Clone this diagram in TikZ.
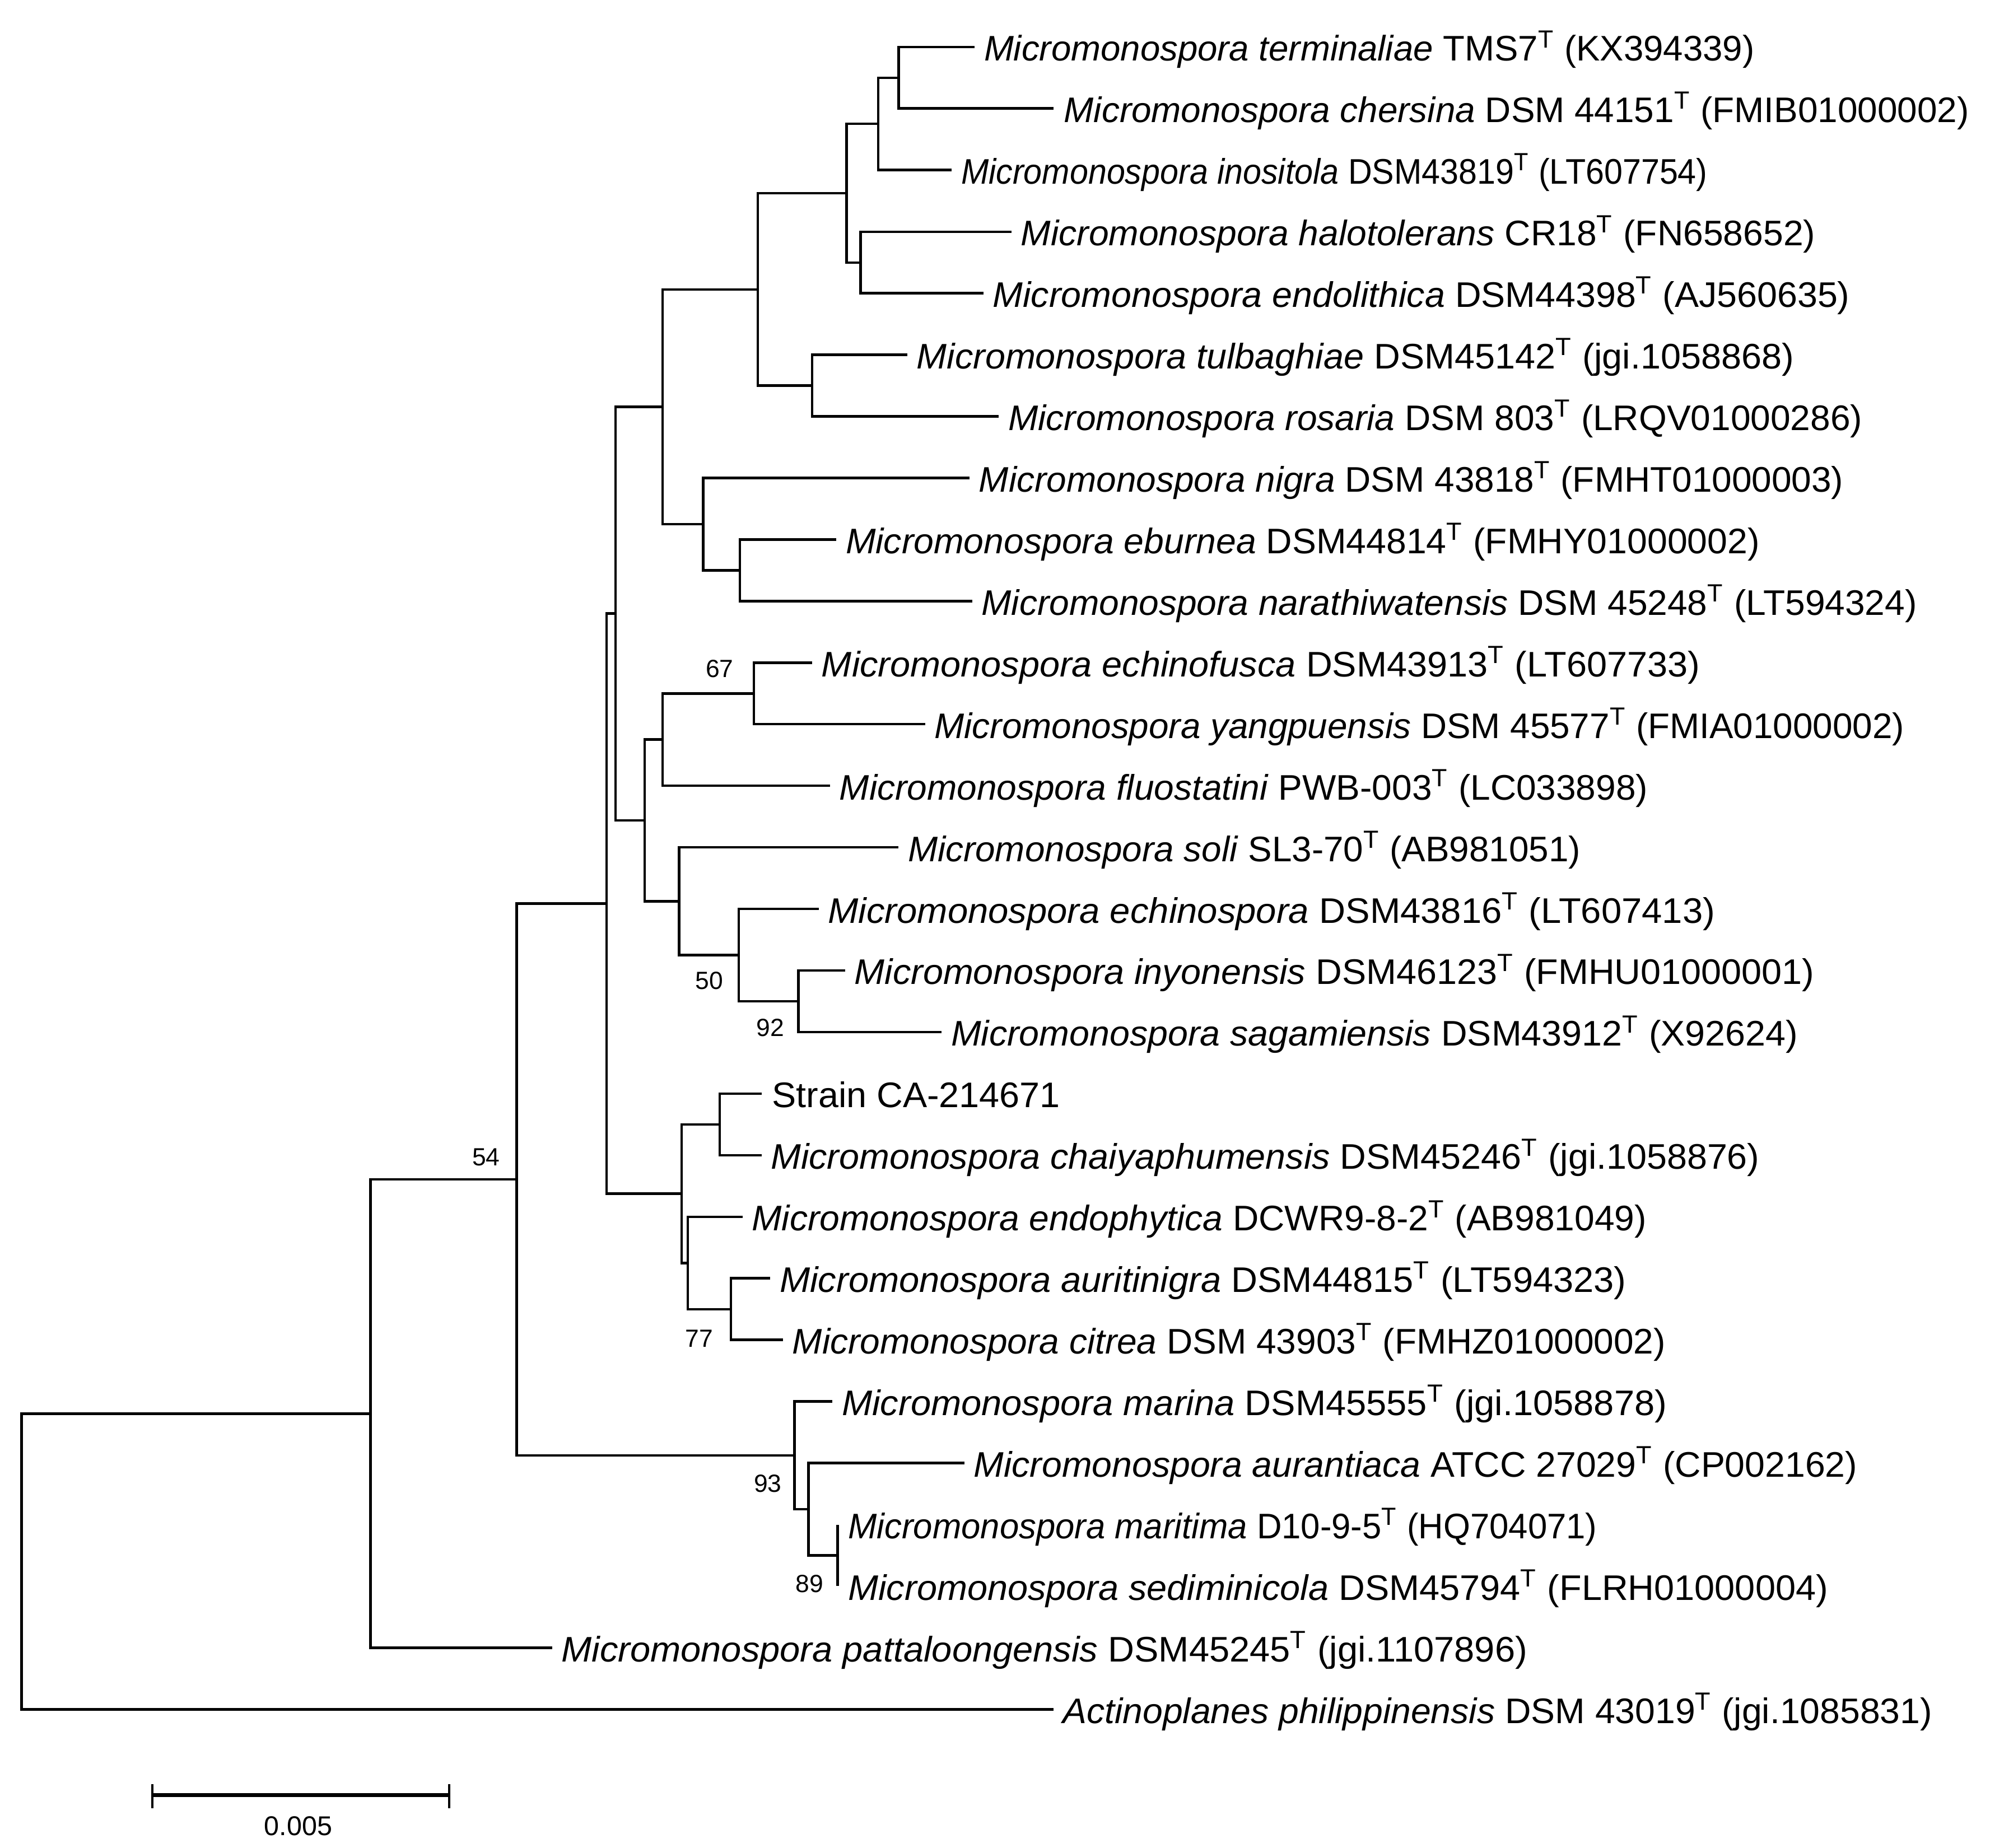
\documentclass[tikz,border=0pt]{standalone}
\usepackage{fontspec}
\setmainfont{Liberation Sans}
\usepackage{graphicx}
\newlength\unitl \setlength\unitl{0.5pt}
\newcommand\lab[2]{\resizebox{#1\unitl}{\height}{#2}}
\newcommand\mic[1]{\textit{Micromonospora #1}}
\newcommand\tsup{\textsuperscript{T}}
\begin{document}
\begin{tikzpicture}[x=0.5pt,y=-0.5pt,
  br/.style={line width=1pt},
  leaf/.style={anchor=base west, inner sep=0pt, font=\fontsize{14}{16}\selectfont},
  boot/.style={inner sep=0pt, font=\fontsize{9.8}{11}\selectfont}]
\useasboundingbox (0,0) rectangle (1568,1456);
% leaf tips
\coordinate (t1) at (768,37);
\coordinate (t2) at (830,85.5);
\coordinate (t3) at (750,134);
\coordinate (t4) at (797,182.6);
\coordinate (t5) at (775,231.1);
\coordinate (t6) at (715,279.6);
\coordinate (t7) at (787,328.1);
\coordinate (t8) at (764,376.6);
\coordinate (t9) at (659,425.2);
\coordinate (t10) at (766,473.7);
\coordinate (t11) at (640,522.2);
\coordinate (t12) at (729,570.7);
\coordinate (t13) at (654,619.2);
\coordinate (t14) at (708,667.8);
\coordinate (t15) at (645,716.3);
\coordinate (t16) at (666,764.8);
\coordinate (t17) at (742,813.3);
\coordinate (t18) at (600,861.8);
\coordinate (t19) at (600,910.4);
\coordinate (t20) at (585,958.9);
\coordinate (t21) at (607,1007.4);
\coordinate (t22) at (617,1055.9);
\coordinate (t23) at (656,1104.4);
\coordinate (t24) at (760,1153);
\coordinate (t25) at (660,1201.5);
\coordinate (t26) at (660,1250);
\coordinate (t27) at (435,1298.5);
\coordinate (t28) at (830,1347);
% internal nodes
\coordinate (A) at (708,61.25);
\coordinate (B) at (692,97.6);
\coordinate (C) at (678,206.9);
\coordinate (D) at (667,152.2);
\coordinate (E) at (640,303.9);
\coordinate (F) at (597,228.1);
\coordinate (G) at (583,449.5);
\coordinate (H) at (554,413.0);
\coordinate (I) at (522,320.6);
\coordinate (J) at (594,546.5);
\coordinate (K) at (522,582.8);
\coordinate (L) at (629,789.1);
\coordinate (M) at (582,752.7);
\coordinate (N) at (535,710.2);
\coordinate (O) at (508,646.5);
\coordinate (P) at (485,483.5);
\coordinate (Q) at (567,886.1);
\coordinate (R) at (576,1031.7);
\coordinate (S) at (542,995.3);
\coordinate (T) at (537,940.7);
\coordinate (U) at (478,712.1);
\coordinate (V) at (660,1225.7);
\coordinate (W) at (637,1189.4);
\coordinate (X) at (626,1146.9);
\coordinate (Y) at (407,929.5);
\coordinate (Z) at (292,1114);
\coordinate (root) at (17,1230.5);
% branches
\foreach \p/\c in {A/t1,A/t2,B/A,B/t3,C/t4,C/t5,D/B,D/C,E/t6,E/t7,F/D,F/E,
  G/t9,G/t10,H/t8,H/G,I/F,I/H,J/t11,J/t12,K/J,K/t13,L/t16,L/t17,M/t15,M/L,
  N/t14,N/M,O/K,O/N,P/I,P/O,Q/t18,Q/t19,R/t21,R/t22,S/t20,S/R,T/Q,T/S,
  U/P,U/T,V/t25,V/t26,W/t24,W/V,X/t23,X/W,Y/U,Y/X,Z/Y,Z/t27,root/Z,root/t28}
  \draw[br] (\p) |- (\c);
% leaf labels
\node[leaf] (n1) at (775,48) {\lab{607}{\mic{terminaliae} TMS7\tsup{} (KX394339)}};
\node[leaf] (n2) at (838,96.5) {\lab{713}{\mic{chersina} DSM 44151\tsup{} (FMIB01000002)}};
\node[leaf] (n3) at (757,145) {\lab{588}{\mic{inositola} DSM43819\tsup{} (LT607754)}};
\node[leaf] (n4) at (804,193.6) {\lab{626}{\mic{halotolerans} CR18\tsup{} (FN658652)}};
\node[leaf] (n5) at (782,242.1) {\lab{675}{\mic{endolithica} DSM44398\tsup{} (AJ560635)}};
\node[leaf] (n6) at (722,290.6) {\lab{691}{\mic{tulbaghiae} DSM45142\tsup{} (jgi.1058868)}};
\node[leaf] (n7) at (794,339.1) {\lab{673}{\mic{rosaria} DSM 803\tsup{} (LRQV01000286)}};
\node[leaf] (n8) at (771,387.6) {\lab{681}{\mic{nigra} DSM 43818\tsup{} (FMHT01000003)}};
\node[leaf] (n9) at (666,436.2) {\lab{720}{\mic{eburnea} DSM44814\tsup{} (FMHY01000002)}};
\node[leaf] (n10) at (773,484.7) {\lab{737}{\mic{narathiwatensis} DSM 45248\tsup{} (LT594324)}};
\node[leaf] (n11) at (647,533.2) {\lab{692}{\mic{echinofusca} DSM43913\tsup{} (LT607733)}};
\node[leaf] (n12) at (736,581.7) {\lab{764}{\mic{yangpuensis} DSM 45577\tsup{} (FMIA01000002)}};
\node[leaf] (n13) at (661,630.2) {\lab{637}{\mic{fluostatini} PWB-003\tsup{} (LC033898)}};
\node[leaf] (n14) at (715,678.8) {\lab{530}{\mic{soli} SL3-70\tsup{} (AB981051)}};
\node[leaf] (n15) at (652,727.3) {\lab{699}{\mic{echinospora} DSM43816\tsup{} (LT607413)}};
\node[leaf] (n16) at (673,775.8) {\lab{756}{\mic{inyonensis} DSM46123\tsup{} (FMHU01000001)}};
\node[leaf] (n17) at (749,824.3) {\lab{667}{\mic{sagamiensis} DSM43912\tsup{} (X92624)}};
\node[leaf] (n18) at (608,872.8) {\lab{227}{Strain CA-214671}};
\node[leaf] (n19) at (607,921.4) {\lab{779}{\mic{chaiyaphumensis} DSM45246\tsup{} (jgi.1058876)}};
\node[leaf] (n20) at (592,969.9) {\lab{705}{\mic{endophytica} DCWR9-8-2\tsup{} (AB981049)}};
\node[leaf] (n21) at (614,1018.4) {\lab{667}{\mic{auritinigra} DSM44815\tsup{} (LT594323)}};
\node[leaf] (n22) at (624,1066.9) {\lab{688}{\mic{citrea} DSM 43903\tsup{} (FMHZ01000002)}};
\node[leaf] (n23) at (663,1115.4) {\lab{650}{\mic{marina} DSM45555\tsup{} (jgi.1058878)}};
\node[leaf] (n24) at (767,1164) {\lab{696}{\mic{aurantiaca} ATCC 27029\tsup{} (CP002162)}};
\node[leaf] (n25) at (668,1212.5) {\lab{590}{\mic{maritima} D10-9-5\tsup{} (HQ704071)}};
\node[leaf] (n26) at (668,1261) {\lab{772}{\mic{sediminicola} DSM45794\tsup{} (FLRH01000004)}};
\node[leaf] (n27) at (442,1309.5) {\lab{761}{\mic{pattaloongensis} DSM45245\tsup{} (jgi.1107896)}};
\node[leaf] (n28) at (837,1358) {\lab{685}{\textit{Actinoplanes philippinensis} DSM 43019\tsup{} (jgi.1085831)}};
% bootstrap values
\node[boot] (b67) at (567,527) {67};
\node[boot] (b50) at (559,773) {50};
\node[boot] (b92) at (607,810) {92};
\node[boot] (b54) at (383,912) {54};
\node[boot] (b77) at (551,1055) {77};
\node[boot] (b93) at (605,1169) {93};
\node[boot] (b89) at (638,1248) {89};
% scale bar
\coordinate (s1) at (120,1414.5);
\coordinate (s2) at (354,1414.5);
\draw[line width=1.5pt] (s1) -- (s2);
\draw[br] (120,1406) -- (120,1425);
\draw[br] (354,1406) -- (354,1425);
\node[inner sep=0pt, font=\fontsize{10.7}{12}\selectfont] (sl) at (235,1439) {0.005};
\end{tikzpicture}
\end{document}
